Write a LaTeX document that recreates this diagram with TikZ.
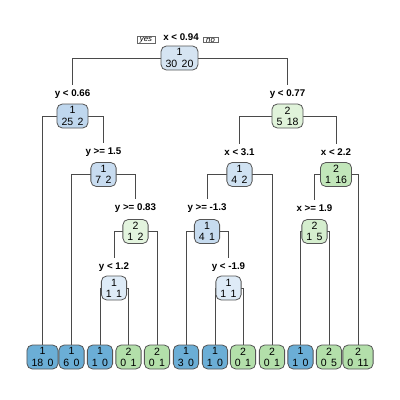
\documentclass[tikz,border=0pt]{standalone}
\usepackage{fontspec}
\setmainfont{Liberation Sans}
\usetikzlibrary{backgrounds}
\definecolor{bLeaf}{HTML}{6BAED6}
\definecolor{bRoot}{HTML}{D5E4F2}
\definecolor{bA}{HTML}{BFD7EE}
\definecolor{bB}{HTML}{C8DCF0}
\definecolor{bHalf}{HTML}{DEEBF7}
\definecolor{bF}{HTML}{D0E2F2}
\definecolor{bH}{HTML}{C6DBEF}
\definecolor{gLeaf}{HTML}{B3DFAA}
\definecolor{gE}{HTML}{E0F3DA}
\definecolor{gG}{HTML}{C2E6BA}
\definecolor{gC}{HTML}{E3F4DE}
\definecolor{gJ}{HTML}{D5EECE}
\definecolor{edge}{HTML}{555555}
\definecolor{branchcol}{HTML}{4A4A4A}
\newcommand{\gp}{\hspace{0.42em}}
\tikzset{
  tn/.style={draw=edge, line width=0.6pt, rounded corners=4pt, align=center,
    inner xsep=3.4pt, inner ysep=0.5pt, minimum height=18pt,
    font=\fontsize{7.9}{8.4}\selectfont},
  lbl/.style={inner sep=0pt, font=\bfseries\fontsize{7.3}{8}\selectfont},
  yn/.style={draw=black!60, line width=0.3pt, inner xsep=2.2pt, inner ysep=0.4pt,
    font=\itshape\fontsize{5.8}{6}\selectfont},
  br/.style={draw=branchcol, line width=0.55pt}
}
\begin{document}
\begin{tikzpicture}[x=0.75pt,y=-0.75pt]
\useasboundingbox (0,0) rectangle (400,400);
% root
\node[lbl] (lR) at (181,37) {x < 0.94};
\node[yn] (yes) at (146,40) {yes};
\node[yn] (no) at (210.5,40) {no};
\node[tn, fill=bRoot] (R) at (179.5,58) {1\\30\gp20};
% level 1
\node[lbl] (lA) at (72.5,94) {y < 0.66};
\node[tn, fill=bA] (A) at (72.5,116) {1\\25\gp2};
\node[lbl] (lE) at (287.5,94) {y < 0.77};
\node[tn, fill=gE] (E) at (287.5,116) {2\\5\gp18};
% level 2
\node[lbl] (lB) at (103.5,152) {y >= 1.5};
\node[tn, fill=bB] (B) at (103.5,174.5) {1\\7\gp2};
\node[lbl] (lF) at (239.5,152) {x < 3.1};
\node[tn, fill=bF] (F) at (239.5,174.5) {1\\4\gp2};
\node[lbl] (lG) at (336,152) {x < 2.2};
\node[tn, fill=gG] (G) at (336,174.5) {2\\1\gp16};
% level 3
\node[lbl] (lC) at (135.5,208) {y >= 0.83};
\node[tn, fill=gC] (C) at (135.5,231.5) {2\\1\gp2};
\node[lbl] (lH) at (207,208) {y >= -1.3};
\node[tn, fill=bH] (H) at (207,231.5) {1\\4\gp1};
\node[lbl] (lJ) at (314.5,208) {x >= 1.9};
\node[tn, fill=gJ] (J) at (314.5,231.5) {2\\1\gp5};
% level 4
\node[lbl] (lD) at (114,267) {y < 1.2};
\node[tn, fill=bHalf] (D) at (114,288) {1\\1\gp1};
\node[lbl] (lI) at (228.5,267) {y < -1.9};
\node[tn, fill=bHalf] (I) at (228.5,288) {1\\1\gp1};
% leaves
\node[tn, fill=bLeaf] (L1) at (42.5,357) {1\\18\gp0};
\node[tn, fill=bLeaf] (L2) at (71.5,357) {1\\6\gp0};
\node[tn, fill=bLeaf] (L3) at (100,357) {1\\1\gp0};
\node[tn, fill=gLeaf] (L4) at (128.5,357) {2\\0\gp1};
\node[tn, fill=gLeaf] (L5) at (157,357) {2\\0\gp1};
\node[tn, fill=bLeaf] (L6) at (186,357) {1\\3\gp0};
\node[tn, fill=bLeaf] (L7) at (215,357) {1\\1\gp0};
\node[tn, fill=gLeaf] (L8) at (243,357) {2\\0\gp1};
\node[tn, fill=gLeaf] (L9) at (272,357) {2\\0\gp1};
\node[tn, fill=bLeaf] (L10) at (300.5,357) {1\\1\gp0};
\node[tn, fill=gLeaf] (L11) at (329,357) {2\\0\gp5};
\node[tn, fill=gLeaf] (L12) at (358,357) {2\\0\gp11};
% branches
\begin{pgfonlayer}{background}
\draw[br] (R.center) -| ([yshift=3pt]lA.north);
\draw[br] (R.center) -| ([yshift=3pt]lE.north);
\draw[br] (A.center) -| (L1.north);
\draw[br] (A.center) -| ([yshift=3pt]lB.north);
\draw[br] (B.center) -| (L2.north);
\draw[br] (B.center) -| ([yshift=3pt]lC.north);
\draw[br] (C.center) -| ([yshift=3pt]lD.north);
\draw[br] (C.center) -| (L5.north);
\draw[br] (D.center) -| (L3.north);
\draw[br] (D.center) -| (L4.north);
\draw[br] (E.center) -| ([yshift=3pt]lF.north);
\draw[br] (E.center) -| ([yshift=3pt]lG.north);
\draw[br] (F.center) -| ([yshift=3pt]lH.north);
\draw[br] (F.center) -| (L9.north);
\draw[br] (H.center) -| (L6.north);
\draw[br] (H.center) -| ([yshift=3pt]lI.north);
\draw[br] (I.center) -| (L7.north);
\draw[br] (I.center) -| (L8.north);
\draw[br] (G.center) -| ([yshift=3pt]lJ.north);
\draw[br] (G.center) -| (L12.north);
\draw[br] (J.center) -| (L10.north);
\draw[br] (J.center) -| (L11.north);
\end{pgfonlayer}
\end{tikzpicture}
\end{document}
